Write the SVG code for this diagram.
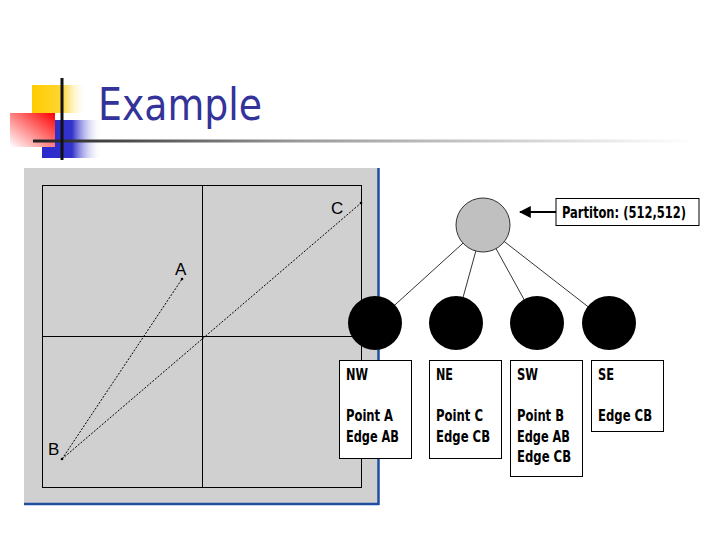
<svg xmlns="http://www.w3.org/2000/svg" width="720" height="540" viewBox="0 0 720 540">
<defs>
<linearGradient id="gy" x1="0" x2="1" y1="0" y2="0"><stop offset="0" stop-color="#ffcc00"/><stop offset="0.55" stop-color="#ffd633"/><stop offset="1" stop-color="#ffffff" stop-opacity="0"/></linearGradient>
<linearGradient id="gb" x1="0" x2="1" y1="0" y2="0"><stop offset="0" stop-color="#2a2acc"/><stop offset="0.5" stop-color="#3333cc"/><stop offset="1" stop-color="#ffffff" stop-opacity="0"/></linearGradient>
<linearGradient id="gr" x1="0" y1="1" x2="1" y2="0"><stop offset="0" stop-color="#ffffff"/><stop offset="0.6" stop-color="#ff6666"/><stop offset="1" stop-color="#ff0000"/></linearGradient>
<linearGradient id="gl" x1="0" x2="1" y1="0" y2="0"><stop offset="0" stop-color="#222222"/><stop offset="0.4" stop-color="#999999"/><stop offset="1" stop-color="#ffffff"/></linearGradient>
<marker id="ah" viewBox="0 0 10 10" refX="9" refY="5" markerWidth="6" markerHeight="6" orient="auto"><path d="M0,0 L10,5 L0,10 z" fill="#000"/></marker>
<style>
.lbl{font-family:"DejaVu Sans Condensed","Liberation Sans",sans-serif;font-weight:bold;font-size:16px;fill:#000}
.pt{font-family:"Liberation Sans","Arial",sans-serif;font-size:17px;fill:#000}
.box{fill:#fff;stroke:#000;stroke-width:1}
.child{fill:#000}
.edge{stroke:#000;stroke-width:0.8;fill:none}
.dot{stroke:#000;stroke-width:1;stroke-dasharray:2 1.5;fill:none}
</style>
</defs>
<rect width="720" height="540" fill="#fff"/>
<g id="title">
<rect x="32" y="85" width="55" height="28" fill="url(#gy)"/>
<rect x="42" y="120" width="60" height="38" fill="url(#gb)"/>
<rect x="10" y="113" width="45" height="34" fill="url(#gr)"/>
<rect x="33" y="139.5" width="660" height="3" fill="url(#gl)"/>
<rect x="60.5" y="78" width="3" height="82" fill="#111"/>
<text x="98" y="120" font-family="Tahoma,'DejaVu Sans','Liberation Sans',sans-serif" font-size="44" fill="#333399" textLength="164" lengthAdjust="spacingAndGlyphs">Example</text>
</g>
<g id="panel">
<rect x="24" y="168" width="354" height="335" fill="#d0d0d0"/>
<line x1="378.5" y1="168" x2="378.5" y2="505" stroke="#1f4ea0" stroke-width="2.5"/>
<line x1="24" y1="504" x2="379" y2="504" stroke="#1f4ea0" stroke-width="2.5"/>
<rect x="42.5" y="185.5" width="319" height="302" fill="none" stroke="#000" stroke-width="1"/>
<line x1="202.5" y1="185" x2="202.5" y2="487" stroke="#000" stroke-width="1"/>
<line x1="42" y1="336.5" x2="361" y2="336.5" stroke="#000" stroke-width="1"/>
<line class="dot" x1="62" y1="459" x2="182" y2="279"/>
<line class="dot" x1="62" y1="459" x2="361" y2="203"/>
<circle cx="62" cy="459" r="1.3" fill="#000"/>
<circle cx="182" cy="279" r="1.3" fill="#000"/>
<circle cx="361" cy="203" r="1.3" fill="#000"/>
<text class="pt" x="331" y="214">C</text>
<text class="pt" x="175" y="275">A</text>
<text class="pt" x="48" y="455">B</text>
</g>
<g id="connectors">
<line class="edge" x1="483" y1="225" x2="375" y2="323"/>
<line class="edge" x1="483" y1="225" x2="456" y2="323"/>
<line class="edge" x1="483" y1="225" x2="537" y2="323"/>
<line class="edge" x1="483" y1="225" x2="609" y2="323"/>
<line x1="556" y1="212" x2="520" y2="212" stroke="#000" stroke-width="2" marker-end="url(#ah)"/>
</g>
<g id="root"><circle cx="483" cy="225" r="27" fill="#c0c0c0" stroke="#333" stroke-width="1"/></g>
<g id="partition"><rect class="box" x="556" y="198.5" width="143" height="27"/><text class="lbl" x="562" y="218" font-size="17" textLength="124" lengthAdjust="spacingAndGlyphs">Partiton: (512,512)</text></g>
<g id="nw"><circle class="child" cx="375" cy="323" r="27"/><rect class="box" x="339.5" y="360.5" width="72" height="98"/><text class="lbl" x="346" y="380" textLength="22" lengthAdjust="spacingAndGlyphs">NW</text><text class="lbl" x="346" y="421" textLength="47" lengthAdjust="spacingAndGlyphs">Point A</text><text class="lbl" x="346" y="442" textLength="53" lengthAdjust="spacingAndGlyphs">Edge AB</text></g>
<g id="ne"><circle class="child" cx="456" cy="323" r="27"/><rect class="box" x="429.5" y="360.5" width="72" height="98"/><text class="lbl" x="436" y="380" textLength="17" lengthAdjust="spacingAndGlyphs">NE</text><text class="lbl" x="436" y="421" textLength="47" lengthAdjust="spacingAndGlyphs">Point C</text><text class="lbl" x="436" y="442" textLength="54" lengthAdjust="spacingAndGlyphs">Edge CB</text></g>
<g id="sw"><circle class="child" cx="537" cy="323" r="27"/><rect class="box" x="510.5" y="360.5" width="72" height="116"/><text class="lbl" x="517" y="380" textLength="21" lengthAdjust="spacingAndGlyphs">SW</text><text class="lbl" x="517" y="421" textLength="47" lengthAdjust="spacingAndGlyphs">Point B</text><text class="lbl" x="517" y="442" textLength="53" lengthAdjust="spacingAndGlyphs">Edge AB</text><text class="lbl" x="517" y="462" textLength="54" lengthAdjust="spacingAndGlyphs">Edge CB</text></g>
<g id="se"><circle class="child" cx="609" cy="323" r="27"/><rect class="box" x="591.5" y="360.5" width="72" height="71"/><text class="lbl" x="598" y="380" textLength="16" lengthAdjust="spacingAndGlyphs">SE</text><text class="lbl" x="598" y="421" textLength="54" lengthAdjust="spacingAndGlyphs">Edge CB</text></g>
</svg>
